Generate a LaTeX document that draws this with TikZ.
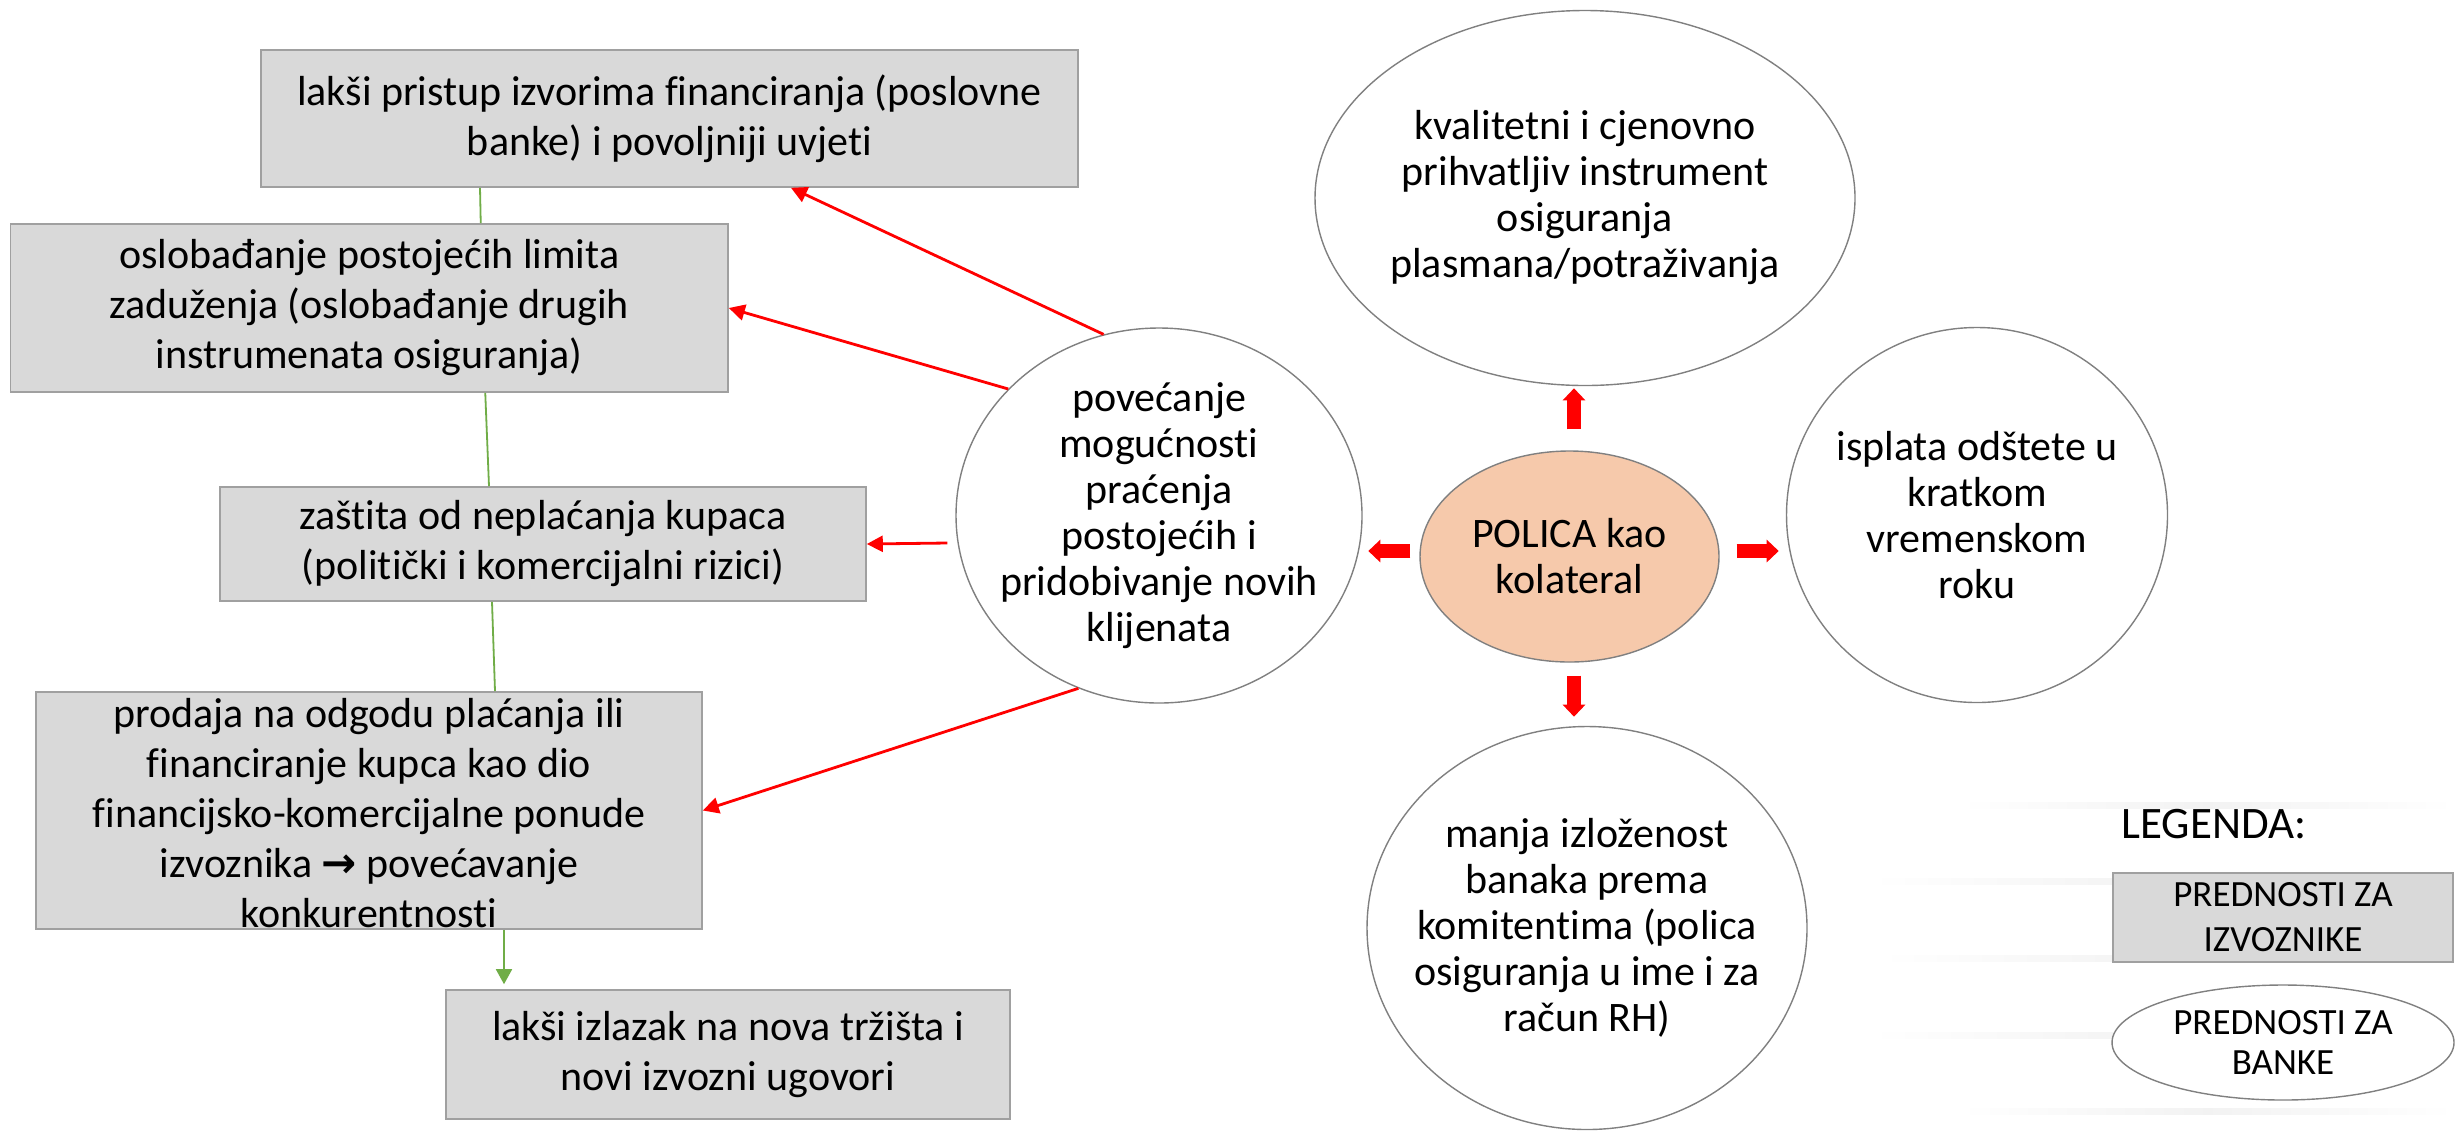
\documentclass[tikz,border=0pt]{standalone}
\usepackage{fontspec}
\setmainfont{Carlito}[Ligatures={TeX,NoCommon}]
\newfontfamily\arrowfont{DejaVu Sans}
\usetikzlibrary{arrows.meta,shapes.geometric,calc}
\definecolor{boxfill}{HTML}{D9D9D9}
\definecolor{boxdraw}{HTML}{A0A0A0}
\definecolor{greenc}{HTML}{70AD47}
\definecolor{peach}{HTML}{F6C9AB}
\definecolor{arrred}{HTML}{FF0000}
\begin{document}
\begin{tikzpicture}[x=0.5pt,y=-0.5pt,
  box/.style={draw=boxdraw, fill=boxfill, line width=0.8pt, inner sep=0pt, rectangle},
  boxtext/.style={align=center, font=\fontsize{21}{25}\selectfont, inner sep=0pt},
  oval/.style={draw=black!50, fill=white, line width=0.7pt, ellipse, inner sep=0pt},
  ovaltext/.style={align=center, font=\fontsize{21}{23}\selectfont, inner sep=0pt},
  redline/.style={draw=arrred, line width=1.4pt, -{Triangle[length=8pt,width=8pt]}},
  greenconn/.style={draw=greenc, line width=0.9pt},
  blockarrow/.style={draw=arrred, line width=7pt, -{Triangle[length=6pt,width=11pt]}},
  legtext/.style={align=center, font=\fontsize{18.5}{22.5}\selectfont, inner sep=0pt},
]
\useasboundingbox (0,0) rectangle (2455,1131);
\fill[white] (0,0) rectangle (2455,1131);
% faint background texture
\foreach \yy/\xa in {802/1960, 878/1870, 955/1880, 1032/1870, 1108/1960}
  \shade[left color=white, right color=white, middle color=black!5] (\xa,\yy) rectangle (2455,\yy+6);

% boxes (exporters)
\node[box, minimum width=408.5pt, minimum height=68.5pt] (B1) at (669.5,118.5) {};
\node[box, minimum width=358.75pt, minimum height=84pt] (B2) at (369.25,308) {};
\node[box, minimum width=323pt, minimum height=57pt] (B3) at (543,544) {};
\node[box, minimum width=333pt, minimum height=118.5pt] (B4) at (369,810.5) {};
\node[box, minimum width=282pt, minimum height=64.5pt] (B5) at (728,1054.5) {};

\node[boxtext] (B1t) at (B1) {lakši pristup izvorima financiranja (poslovne\\banke) i povoljniji uvjeti};
\node[boxtext] (B2t) at (B2) {oslobađanje postojećih limita\\zaduženja (oslobađanje drugih\\instrumenata osiguranja)};
\node[boxtext] (B3t) at (B3) {zaštita od neplaćanja kupaca\\(politički i komercijalni rizici)};
\node[boxtext] (B4t) at ($(B4)+(0,3)$) {prodaja na odgodu plaćanja ili\\financiranje kupca kao dio\\financijsko-komercijalne ponude\\izvoznika {\arrowfont\bfseries →} povećavanje\\konkurentnosti};
\node[boxtext] (B5t) at (B5) {lakši izlazak na nova tržišta i\\novi izvozni ugovori};

% ellipses (banks)
\node[oval, minimum width=270pt, minimum height=187.5pt] (T) at (1585,198) {};
\node[oval, minimum width=203pt, minimum height=187.5pt] (L) at (1159,515.5) {};
\node[oval, fill=peach, minimum width=149.5pt, minimum height=105.5pt] (P) at (1569.5,556.5) {};
\node[oval, minimum width=190.5pt, minimum height=187.5pt] (R) at (1977,515) {};
\node[oval, minimum width=220pt, minimum height=201.5pt] (D) at (1587,928) {};

\node[ovaltext] (Tt) at (T) {kvalitetni i cjenovno\\prihvatljiv instrument\\osiguranja\\plasmana/potraživanja};
\node[ovaltext] (Lt) at (L) {povećanje\\mogućnosti\\praćenja\\postojećih i\\pridobivanje novih\\klijenata};
\node[ovaltext] (Pt) at (P) {POLICA kao\\kolateral};
\node[ovaltext] (Rt) at (R) {isplata odštete u\\kratkom\\vremenskom\\roku};
\node[ovaltext] (Dt) at (D) {manja izloženost\\banaka prema\\komitentima (polica\\osiguranja u ime i za\\račun RH)};

% green connectors between boxes
\draw[greenconn] ([xshift=-94.75pt]B1.south) -- ([xshift=55.75pt]B2.north);
\draw[greenconn] ([xshift=58pt]B2.south) -- ([xshift=-27pt]B3.north);
\draw[greenconn] ([xshift=-25.5pt]B3.south) -- ([xshift=63pt]B4.north);
\draw[greenconn, -{Triangle[length=7.5pt,width=8pt]}] ([xshift=67.5pt]B4.south) -- ([xshift=-112pt,yshift=2.5pt]B5.north);

% red arrows from left ellipse to boxes
\draw[redline] (L.107.5) -- ([xshift=60.75pt]B1.south);
\draw[redline] (L.140) -- (B2.east);
\draw[redline] ($(L.west |- B3.east)+(-8,-1)$) -- (B3.east);
\draw[redline] (L.245.6) -- (B4.east);

% block arrows around POLICA
\draw[blockarrow] ([xshift=2.25pt,yshift=10.5pt]P.north) -- ++(0,-41);
\draw[blockarrow] ([xshift=2.25pt,yshift=-6.5pt]P.south) -- ++(0,41);
\draw[blockarrow] ([xshift=-4.5pt,yshift=2.75pt]P.west) -- ++(-42,0);
\draw[blockarrow] ([xshift=8.5pt,yshift=2.75pt]P.east) -- ++(42,0);

% legend
\node[font=\fontsize{22.5}{27}\selectfont, anchor=base, inner sep=0pt] (LEG) at (2214,838) {LEGENDA:};
\node[box, minimum width=170pt, minimum height=44.5pt] (LB) at (2283,917.5) {};
\node[legtext] (LBt) at (LB) {PREDNOSTI ZA\\IZVOZNIKE};
\node[oval, minimum width=171pt, minimum height=57.5pt] (LE) at (2283,1042.5) {};
\node[legtext, font=\fontsize{18.5}{20}\selectfont] (LEt) at (LE) {PREDNOSTI ZA\\BANKE};
\end{tikzpicture}
\end{document}
